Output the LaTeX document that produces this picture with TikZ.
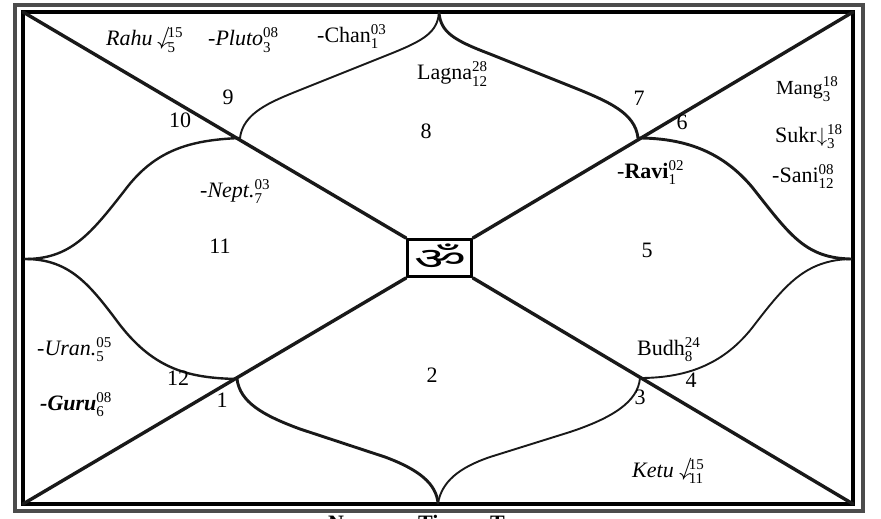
\documentclass[tikz,border=0pt]{standalone}
\usepackage{fontspec}
\setmainfont{Liberation Serif}
\newfontfamily\omfont[Script=Devanagari]{Noto Sans}
\newcommand{\scr}[2]{\hbox{\fontsize{15}{15}\selectfont\setbox0=\hbox{#1}\setbox2=\hbox{#2}\rlap{\raise8pt\box0}\lower6pt\box2}}
\newcommand{\tallarrow}{\ensuremath{\downarrow}}
\tikzset{
  every node/.style={inner sep=0pt,font=\fontsize{22}{22}\selectfont},
  lab/.style={anchor=base west},
  num/.style={anchor=base},
  slantarrow/.style={xslant=0.35,transform shape,font=\fontsize{24}{24}\selectfont},
  frameline/.style={line width=3.2pt,draw=black!70,line join=miter},
  innerframe/.style={line width=3.6pt,draw=black,line join=miter},
  spoke/.style={line width=3.4pt,draw=black!90,line cap=round},
  petal/.style={line width=2.4pt,draw=black!90,line cap=round},
  thinpetal/.style={line width=1.9pt,draw=black!90,line cap=round},
  thickpetal/.style={line width=2.9pt,draw=black!90,line cap=round},
  captext/.style={anchor=base west,font=\bfseries\fontsize{22}{22}\selectfont},
}
\begin{document}
\begin{tikzpicture}[x=1pt,y=-1pt]
\useasboundingbox (0,0) rectangle (881,519);
\clip (0,0) rectangle (881,519);
\draw[frameline] (15,5) rectangle (863,511);
\draw[innerframe] (23,12) rectangle (853,504);
\coordinate (tl) at (23,12);
\coordinate (tr) at (853,12);
\coordinate (bl) at (23,504);
\coordinate (br) at (853,504);
\coordinate (top) at (439,13);
\coordinate (bot) at (438,503);
\coordinate (lef) at (25,259);
\coordinate (rig) at (851,259);
\coordinate (a) at (240,138);
\coordinate (b) at (638,138);
\coordinate (c) at (237,379);
\coordinate (d) at (640,378);
\node[draw=black,line width=3pt,minimum width=64pt,minimum height=37pt] (om) at (439.5,258) {};
\node[xscale=1.5,yscale=0.8,transform shape,font=\omfont\fontsize{38}{38}\selectfont] (omsign) at (440,257) {ॐ};
\draw[spoke] (tl) -- (om.north west);
\draw[spoke] (tr) -- (om.north east);
\draw[spoke] (bl) -- (om.south west);
\draw[spoke] (br) -- (om.south east);
% upper petals
\draw[thinpetal] (a) .. controls (243,113) and (270,102) .. (300,90) -- (390,54) .. controls (425,40) and (437,32) .. (top);
\draw[thickpetal] (top) .. controls (441,32) and (453,40) .. (490,54) -- (570,86) .. controls (610,102) and (635,113) .. (b);
% lower petals
\draw[thickpetal] (c) .. controls (240,402) and (262,415) .. (300,429) -- (385,457) .. controls (420,470) and (436,484) .. (bot);
\draw[thinpetal] (bot) .. controls (442,482) and (458,468) .. (490,457) -- (570,432) .. controls (612,418) and (638,402) .. (d);
% left petals
\draw[petal] (a) .. controls (190,140) and (155,150) .. (125,190) .. controls (90,235) and (70,259) .. (lef);
\draw[petal] (lef) .. controls (70,259) and (90,285) .. (120,325) .. controls (155,370) and (190,378) .. (c);
% right petals
\draw[thickpetal] (b) .. controls (690,138) and (725,155) .. (752,187) .. controls (790,235) and (805,258) .. (rig);
\draw[thinpetal] (rig) .. controls (805,260) and (785,285) .. (752,328) .. controls (725,362) and (690,378) .. (d);
% numbers
\node[num] (n1) at (222,407) {1};
\node[num] (n2) at (432,382) {2};
\node[num] (n3) at (640,404) {3};
\node[num] (n4) at (691,387) {4};
\node[num] (n5) at (647,257) {5};
\node[num] (n6) at (682,129) {6};
\node[num] (n7) at (639,106) {7};
\node[num] (n8) at (426,138) {8};
\node[num] (n9) at (228,104) {9};
\node[num] (n10) at (180,127) {10};
\node[num] (n11) at (220,253) {11};
\node[num] (n12) at (178,385) {12};
% planets
\node[lab] (rahu) at (106,46) {\textit{Rahu}\hspace*{15pt}\scr{15}{5}};
\node[slantarrow] (rahuarrow) at (165,38) {\tallarrow};
\node[lab] (pluto) at (208,46) {\textit{-Pluto}\scr{08}{3}};
\node[lab] (chan) at (317,43) {-Chan\scr{03}{1}};
\node[lab] (lagna) at (417,80) {Lagna\scr{28}{12}};
\node[lab,font=\fontsize{20}{20}\selectfont] (mang) at (776,95) {Mang\scr{18}{3}};
\node[lab] (sukr) at (775,142) {Sukr\tallarrow\scr{18}{3}};
\node[lab] (sani) at (772,182) {-Sani\scr{08}{12}};
\node[lab] (ravi) at (617,178) {-\textbf{Ravi}\scr{02}{1}};
\node[lab] (nept) at (200,197) {\textit{-Nept.}\scr{03}{7}};
\node[lab] (uran) at (37,355) {\textit{-Uran.}\scr{05}{5}};
\node[lab] (guru) at (40,410) {\textbf{\textit{-Guru}}\scr{08}{6}};
\node[lab] (budh) at (637,355) {Budh\scr{24}{8}};
\node[lab] (ketu) at (632,477) {\textit{Ketu}\hspace*{15pt}\scr{15}{11}};
\node[slantarrow] (ketuarrow) at (687,469) {\tallarrow};
% caption cut off by the lower edge
\node[captext] (capa) at (328,530) {N};
\node[captext] (capb) at (418,530) {Ti};
\node[captext] (capc) at (490,530) {T};
\end{tikzpicture}
\end{document}
